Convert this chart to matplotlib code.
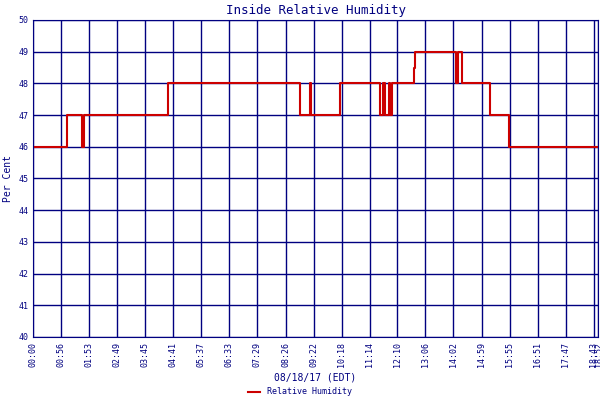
import matplotlib
matplotlib.use("Agg")
import matplotlib.pyplot as plt

tick_labels = ["00:00","00:56","01:53","02:49","03:45","04:41","05:37","06:33","07:29","08:26",
               "09:22","10:18","11:14","12:10","13:06","14:02","14:59","15:55","16:51","17:47","18:43","18:52"]
# step series: minute since midnight, humidity value
times = [0, 68, 98, 102, 270, 535, 555, 557, 615, 695, 701, 704, 713, 716, 719, 763, 765, 848, 852, 860, 916, 954, 1132]
values = [46, 47, 46, 47, 48, 47, 48, 47, 48, 47, 48, 47, 48, 47, 48, 48.5, 49, 48, 49, 48, 47, 46, 46]

def to_min(s):
    h, m = s.split(":")
    return int(h) * 60 + int(m)

tick_pos = [to_min(s) for s in tick_labels]
navy = "#000080"
plt.rcParams['font.family'] = ['DejaVu Sans Mono']

fig = plt.figure(figsize=(6, 4), dpi=100)
ax = fig.add_axes([0.055, 0.1575, 0.942, 0.7925])
ax.step(times, values, where="post", color="#cc0000", lw=1.5)
ax.set_xlim(0, 1132)
ax.set_ylim(40, 50)
ax.set_yticks(range(40, 51))
ax.set_xticks(tick_pos)
ax.set_xticklabels(tick_labels, rotation=90, fontsize=6, color=navy)
ax.tick_params(axis='y', labelsize=6, labelcolor=navy, length=0)
ax.tick_params(axis='x', length=0)
ax.grid(True, color=navy, lw=1)
for s in ax.spines.values():
    s.set_color(navy)
ax.set_title("Inside Relative Humidity", color=navy, fontsize=9, pad=4)
ax.set_ylabel("Per Cent", color=navy, fontsize=7)
ax.set_xlabel("08/18/17 (EDT)", color=navy, fontsize=7, labelpad=4)
fig.legend(["Relative Humidity"], loc="lower center", bbox_to_anchor=(0.5, -0.01), frameon=False,
           fontsize=6, labelcolor=navy, handlelength=1.5)
fig.savefig("out.png", dpi=100)
